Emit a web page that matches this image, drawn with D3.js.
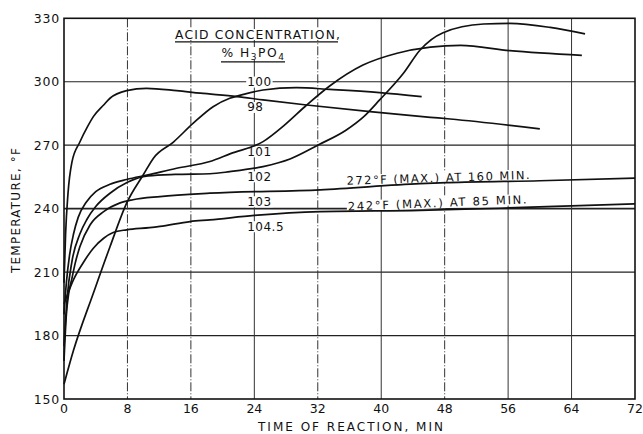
<!DOCTYPE html>
<html>
<head>
<meta charset="utf-8">
<script src="https://cdn.jsdelivr.net/npm/d3@7"></script>
<style>
  body { margin: 0; background: #fff; }
  text { font-family: "DejaVu Sans", sans-serif; fill: #111; }
</style>
</head>
<body>
<svg id="chart" width="643" height="434"></svg>
<script>
// time (min), temperature (°F)
const acid98 = [[0,205],[0.2,228],[0.5,247],[1,262],[2,271.5],[3,279],[3.7,283.5],[5,289],[5.8,292.2],[7.9,295.8],[10.4,296.9],[14.2,295.8],[17.2,294.6],[21.8,293],[25.1,291.4],[30.6,289],[38.6,285.9],[46.2,283.2],[48.7,282.4],[60,277.7]];
const acid100 = [[0,157],[1.2,173],[3.7,200],[5.8,222],[7.9,242.6],[10,256],[11.3,264],[13.8,271.5],[16.3,280.4],[18.8,288.2],[20.9,292.2],[22.4,293.8],[25.1,296.1],[29.3,297.2],[33.5,296.4],[39.8,294.9],[45.1,293]];
const acid101 = [[0,190],[0.3,205],[0.7,218],[1.2,228],[1.8,236],[2.8,243],[4,248],[5.8,251.5],[7.9,253.8],[10.6,256],[14.2,259.1],[18.4,262.3],[21,266],[25.1,271.7],[27.8,279.5],[30.6,289],[33.5,298],[37.7,307.9],[42,313.5],[46.2,316.4],[50,317.2],[56.2,314.7],[65.3,312.5]];
const acid102 = [[0,175],[0.4,198],[1,215],[2,228],[2.9,235],[4,241],[5.8,247.3],[8,252.5],[10.6,255.5],[14,256.2],[18.4,256.5],[20.9,257.5],[25.1,259.9],[28.5,263.5],[32.1,270.2],[35.6,277.2],[37.8,283.5],[39.8,291.4],[42.8,304],[44.9,315],[47.8,323.2],[52.9,327.3],[56.2,327.6],[61.3,325.7],[65.7,322.6]];
const acid103 = [[0,168],[0.3,190],[0.6,200],[1,207],[1.4,214],[2,222],[3.3,232.4],[5,238.6],[7,242.6],[8.7,244.2],[12.1,245.7],[18.4,247.3],[32.3,248.9],[44.9,251.8],[48.5,252.3],[60,253.2],[72,254.4]];
const acid1045 = [[0,195],[0.5,200],[1.2,206.4],[2.4,214.3],[3.7,221.3],[5,226],[6.2,228.7],[7.9,230],[10.8,231],[12.1,231.6],[15.9,233.9],[18.4,234.7],[24,236.8],[32.3,238.6],[44.9,239.2],[55,240.2],[64,241.3],[72,242.3]];

const series = [acid98, acid100, acid101, acid102, acid103, acid1045];
const concLabels = ["98", "100", "101", "102", "103", "104.5"];
const xTicks = [0, 8, 16, 24, 32, 40, 48, 56, 64, 72];
const yTicks = [150, 180, 210, 240, 270, 300, 330];
const solidX = [24, 40, 56, 64];

const svg = d3.select("#chart");
const x = d3.scaleLinear().domain([0, 72]).range([64, 635]);
const y = d3.scaleLinear().domain([150, 330]).range([399, 18.3]);

// grid
svg.append("g")
	.selectAll("line")
	.data(yTicks.slice(1, -1))
	.join("line")
	.attr("x1", x(0)).attr("x2", x(72))
	.attr("y1", (d) => y(d)).attr("y2", (d) => y(d))
	.attr("stroke", "#222")
	.attr("stroke-width", (d) => (d === 240 ? 1.6 : 1.2));

svg.append("g")
	.selectAll("line")
	.data(xTicks.slice(1, -1))
	.join("line")
	.attr("x1", (d) => x(d)).attr("x2", (d) => x(d))
	.attr("y1", y(330)).attr("y2", y(150))
	.attr("stroke", "#333")
	.attr("stroke-width", 1)
	.attr("stroke-dasharray", (d) => (solidX.includes(d) ? null : "9,2,1,2"));

svg.append("rect")
	.attr("x", x(0)).attr("y", y(330))
	.attr("width", x(72) - x(0)).attr("height", y(150) - y(330))
	.attr("fill", "none").attr("stroke", "#111").attr("stroke-width", 1.6);

// tick labels
svg.append("g")
	.selectAll("text")
	.data(yTicks)
	.join("text")
	.attr("x", 60).attr("y", (d) => y(d)).attr("dy", "0.36em")
	.attr("text-anchor", "end")
	.attr("font-size", 12.5)
	.attr("letter-spacing", 0.8)
	.text((d) => d);

svg.append("g")
	.selectAll("text")
	.data(xTicks)
	.join("text")
	.attr("x", (d) => x(d)).attr("y", 413)
	.attr("text-anchor", "middle")
	.attr("font-size", 12.5)
	.text((d) => d);

svg.append("text")
	.attr("x", 258).attr("y", 431)
	.attr("font-size", 12)
	.attr("textLength", 185).attr("lengthAdjust", "spacing")
	.text("TIME OF REACTION, MIN");

svg.append("text")
	.attr("transform", "translate(20,273) rotate(-90)")
	.attr("font-size", 12)
	.attr("textLength", 125).attr("lengthAdjust", "spacing")
	.text("TEMPERATURE, °F");

// labels over the grid, with white patches behind them
const labelY = [288, 300, 267, 255.2, 243.4, 231.6];
const bg = svg.append("g");
const lab = svg.append("g");

lab.selectAll("text")
	.data(concLabels)
	.join("text")
	.attr("x", x(23.1)).attr("y", (d, i) => y(labelY[i])).attr("dy", "0.36em")
	.attr("font-size", 12)
	.attr("letter-spacing", 0.5)
	.text((d) => d);

lab.append("text")
	.attr("transform", `translate(${x(35.65)},${y(251.3)}) rotate(-1.8)`)
	.attr("font-size", 11.5)
	.attr("textLength", 183).attr("lengthAdjust", "spacing")
	.text("272°F (MAX.) AT 160 MIN.");

lab.append("text")
	.attr("transform", `translate(${x(35.8)},${y(239.1)}) rotate(-2.3)`)
	.attr("font-size", 11.5)
	.attr("textLength", 179).attr("lengthAdjust", "spacing")
	.text("242°F (MAX.) AT 85 MIN.");

lab.append("text")
	.attr("x", 175).attr("y", 38.5)
	.attr("font-size", 12.3)
	.attr("textLength", 165).attr("lengthAdjust", "spacing")
	.text("ACID CONCENTRATION,");

const sub = lab.append("text")
	.attr("x", 221.5).attr("y", 56.5)
	.attr("font-size", 12.3)
	.attr("letter-spacing", 1.5);
sub.append("tspan").text("% H");
sub.append("tspan").attr("font-size", 9).attr("dy", 3).text("3");
sub.append("tspan").attr("dy", -3).text("PO");
sub.append("tspan").attr("font-size", 9).attr("dy", 3).text("4");

lab.selectAll("text").each(function () {
	const b = this.getBBox();
	bg.append("rect")
		.attr("transform", this.getAttribute("transform"))
		.attr("x", b.x - 1).attr("y", b.y + 1.5)
		.attr("width", b.width + 2).attr("height", b.height - 3)
		.attr("fill", "#fff");
});

lab.append("line")
	.attr("x1", 175).attr("x2", 338).attr("y1", 41.8).attr("y2", 41.8)
	.attr("stroke", "#111").attr("stroke-width", 1.3);
lab.append("line")
	.attr("x1", 221).attr("x2", 285).attr("y1", 61.8).attr("y2", 61.8)
	.attr("stroke", "#111").attr("stroke-width", 1.3);

// curves
const line = d3
	.line()
	.x((d) => x(d[0]))
	.y((d) => y(d[1]))
	.curve(d3.curveMonotoneX);

svg.insert("g", "g:last-of-type")
	.selectAll("path")
	.data(series)
	.join("path")
	.attr("fill", "none")
	.attr("stroke", "#111")
	.attr("stroke-width", 1.7)
	.attr("d", line);
</script>
</body>
</html>
